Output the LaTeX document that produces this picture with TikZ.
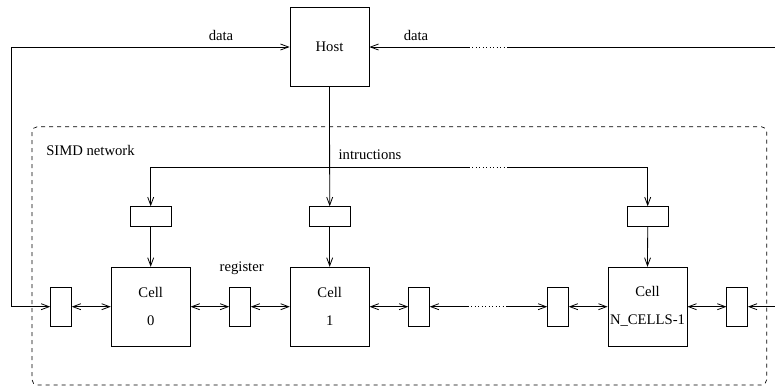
\documentclass[tikz,border=0pt]{standalone}
\usepackage{fontspec}
\setmainfont{Liberation Serif}
\usetikzlibrary{arrows.meta,positioning}

\tikzset{
  unit/.style={draw, minimum width=59.25pt, minimum height=59.25pt, inner sep=0pt, align=center},
  regv/.style={draw, minimum width=15.5pt, minimum height=29.5pt, inner sep=0pt},
  regh/.style={draw, minimum width=30.75pt, minimum height=14.5pt, inner sep=0pt},
  lbl/.style={inner sep=0pt, anchor=base},
}

\begin{document}
\begin{tikzpicture}[x=0.75pt, y=-0.75pt, line width=0.6pt,
  >={Straight Barb[length=6pt,width=4.5pt]},
  font=\fontsize{11}{13}\selectfont]
\useasboundingbox (0,0) rectangle (775,387);

% host and the SIMD network
\node[unit] (host) at (329.5,47) {Host};
\draw[dashed, line width=0.5pt, rounded corners=4pt] (32,126.7) rectangle (766.7,385);
\node[lbl] (simd) at (90.5,155.5) {SIMD network};

\node[unit] (cell0) at (150.7,306.7) {Cell\\[7.8pt]0};
\node[unit] (cell1) at (329.7,306.7) {Cell\\[7.8pt]1};
\node[unit] (celln) at (647.5,306.7) {Cell\\[7.8pt]N\_CELLS-1};

\node[regh] (t0) at (150.7,216.3) {};
\node[regh] (t1) at (329.7,216.3) {};
\node[regh] (tn) at (647.7,216.3) {};

\node[regv] (r0) at (61,306.7) {};
\node[regv] (r1) at (240,306.7) {};
\node[regv] (r2) at (419,306.7) {};
\node[regv] (r3) at (558,306.7) {};
\node[regv] (r4) at (737.2,306.7) {};

\node[lbl] (dataleft) at (221,40) {data};
\node[lbl] (dataright) at (416,40) {data};
\node[lbl] (instr) at (370,159) {intructions};
\node[lbl] (reglbl) at (241.7,271) {register};

\coordinate (lp) at (11.7,47);
\coordinate (datr) at (775,47);
\coordinate (inr) at (775,306.7);
\coordinate (d1) at (469,47);
\coordinate (d2) at (507,47);
\coordinate (ibar) at (0,167.3);
\coordinate (i1) at (469,167.3);
\coordinate (i2) at (507,167.3);
\coordinate (b1) at (468,306.7);
\coordinate (b2) at (507,306.7);

% data loop
\draw[<->] (r0.west) -- (r0.west -| lp) -- (lp) -- (host.west);
\draw[<-] (host.east) -- (d1);
\draw[dotted] (d1) -- (d2);
\draw (d2) -- (datr);
\draw[<-] (r4.east) -- (inr);

% instructions
\draw[->] (host.south) -- (t1.north);
\draw[->] (host.south |- ibar) -| (t0.north);
\draw (host.south |- ibar) -- (i1);
\draw[dotted] (i1) -- (i2);
\draw[->] (i2) -| (tn.north);
\foreach \c in {0,1,n}
  \draw[->] (t\c.south) -- (cell\c.north);

% cell chain
\draw[<->] (r0) -- (cell0);
\draw[<->] (cell0) -- (r1);
\draw[<->] (r1) -- (cell1);
\draw[<->] (cell1) -- (r2);
\draw[<-] (r2.east) -- (b1);
\draw[dotted] (b1) -- (b2);
\draw[->] (b2) -- (r3.west);
\draw[<->] (r3) -- (celln);
\draw[<->] (celln) -- (r4);
\end{tikzpicture}
\end{document}
